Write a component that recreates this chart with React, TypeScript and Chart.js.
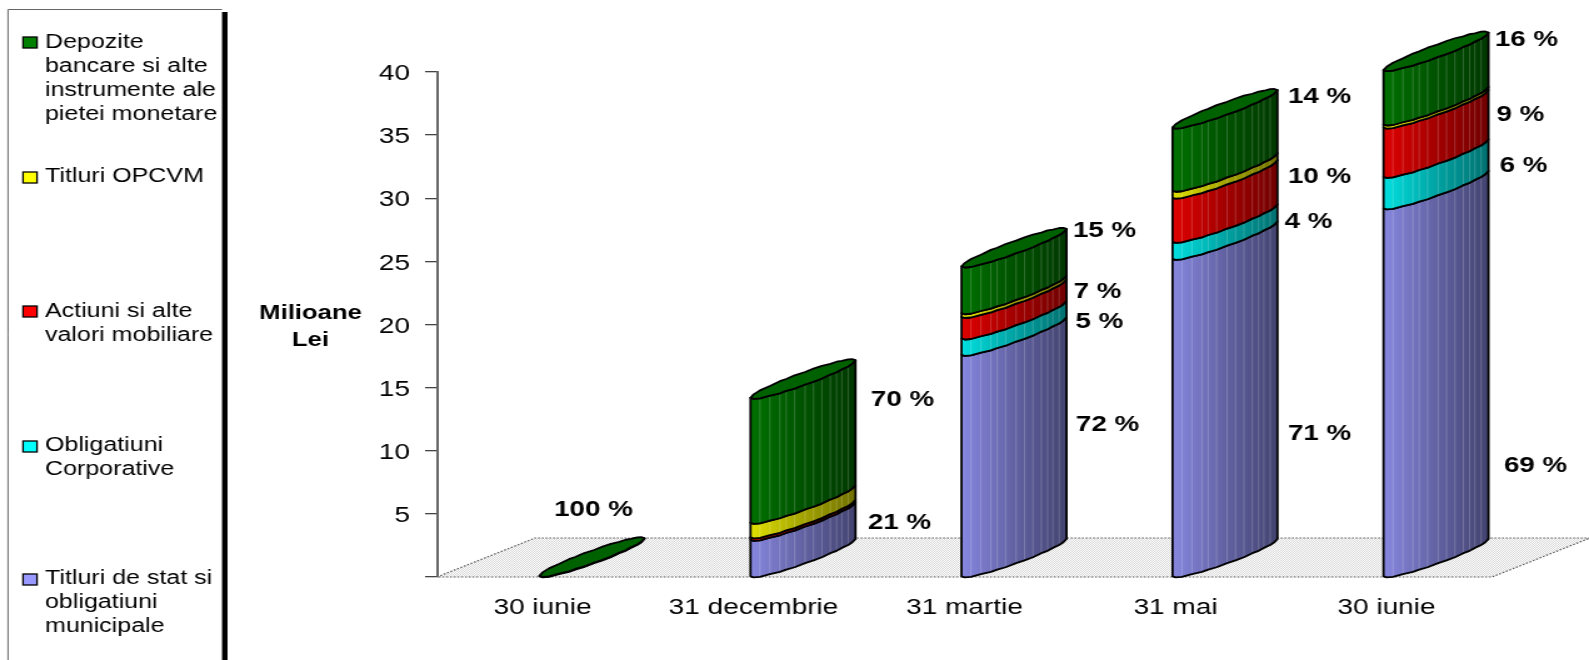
import React, { useEffect, useRef } from "react";
import { Chart, registerables } from "chart.js";

Chart.register(...registerables);

// ---------- data ----------
const categories = ["30 iunie", "31 decembrie", "31 martie", "31 mai", "30 iunie"];
const titluriStat = [0, 2.95, 17.6, 25.2, 29.2];
const obligatiuni = [0, 0, 1.3, 1.35, 2.5];
const actiuni = [0, 0.2, 1.7, 3.5, 3.9];
const opcvm = [0, 1.15, 0.3, 0.55, 0.25];
const depozite = [0.1, 9.9, 3.7, 5.0, 4.3];

const pctStat = ["", "21 %", "72 %", "71 %", "69 %"];
const pctObl = ["", "", "5 %", "4 %", "6 %"];
const pctAct = ["", "", "7 %", "10 %", "9 %"];
const pctOpc = ["", "", "", "", ""];
const pctDep = ["100 %", "70 %", "15 %", "14 %", "16 %"];

const legendStat = ["Titluri de stat si", "obligatiuni", "municipale"];
const legendObl = ["Obligatiuni", "Corporative"];
const legendAct = ["Actiuni si alte", "valori mobiliare"];
const legendOpc = ["Titluri OPCVM"];
const legendDep = ["Depozite", "bancare si alte", "instrumente ale", "pietei monetare"];

const axisTitle = ["Milioane", "Lei"];
const yMax = 40;
const yStep = 5;

// ---------- layout & style (page pixels; x is divided by the stretch) ----------
const PAGE_W = 1589;
const PAGE_H = 660;
const LOGICAL_W = 1271;
const S = PAGE_W / LOGICAL_W; // the whole chart is stretched horizontally
const AREA = { left: 437, right: 1492, top: 72, bottom: 577 };
const FLOOR = { dx: 98, dy: -39 };
const BAR = { width: 105, shift: -3, rise: 37.5, bulge: 6.5 };
const FONT = '"Liberation Sans", Arial, sans-serif';
const FACETS = [0, 0.03, 0.09, 0.185, 0.28, 0.34, 0.42, 0.52, 0.6, 0.68, 0.76, 0.82, 0.87, 0.93, 0.97, 1];
const WOBBLE = [0, 0, 0.25, -0.25, 0.2, -0.2, 0.25, -0.25, 0.2, 0.3, -0.25, 0.25, -0.2, 0.25, 0, 0];

const colorStat = "#9999ff";
const colorObl = "#00ffff";
const colorAct = "#ff0000";
const colorOpc = "#ffff00";
const colorDep = "#008000";

// label offsets from (band centre, segment middle), same order as the series and categories
const offStat = [[0, 0], [146, -35], [143, -41], [144, 16], [149, 74]];
const offObl = [[0, 0], [0, 0], [135, -25], [133, -28], [137, -27]];
const offAct = [[0, 0], [0, 0], [133, -36], [144, -43], [134, -37]];
const offOpc = [[0, 0], [0, 0], [0, 0], [0, 0], [0, 0]];
const offDep = [[51, -66], [149, -60], [140, -59], [144, -62], [140, -57.5]];

const legendFirstY = [578, 445, 311, 176, 42]; // same order as the series
const legendSwatchY = [574, 441, 306, 172, 37];
const LEGEND_LINE = 24.3;

const series = [
  { label: legendStat, data: titluriStat, color: colorStat, pct: pctStat, off: offStat },
  { label: legendObl, data: obligatiuni, color: colorObl, pct: pctObl, off: offObl },
  { label: legendAct, data: actiuni, color: colorAct, pct: pctAct, off: offAct },
  { label: legendOpc, data: opcvm, color: colorOpc, pct: pctOpc, off: offOpc },
  { label: legendDep, data: depozite, color: colorDep, pct: pctDep, off: offDep },
];

const shade = (hex: string, k: number) => {
  const n = parseInt(hex.slice(1), 16);
  return `rgb(${Math.round(((n >> 16) & 255) * k)},${Math.round(((n >> 8) & 255) * k)},${Math.round((n & 255) * k)})`;
};

const round = (f: number) => Math.sqrt(Math.max(0, 1 - (2 * f - 1) ** 2));
const lowerY = (f: number, i: number, y0: number) => y0 - BAR.rise * f + BAR.bulge * round(f) + WOBBLE[i];
const upperY = (f: number, i: number, y0: number) => y0 - BAR.rise * f - BAR.bulge * round(f) - WOBBLE[i];

const scene3d = {
  id: "scene3d",
  beforeDraw(chart: any) {
    const { ctx, chartArea: a } = chart;
    const dx = FLOOR.dx / S;
    const tile = document.createElement("canvas");
    tile.width = 2;
    tile.height = 2;
    const t = tile.getContext("2d")!;
    t.fillStyle = "#ffffff";
    t.fillRect(0, 0, 2, 2);
    t.fillStyle = "#d8d8d8";
    t.fillRect(0, 0, 1, 1);
    t.fillRect(1, 1, 1, 1);
    ctx.save();
    ctx.beginPath();
    ctx.moveTo(a.left, a.bottom);
    ctx.lineTo(a.left + dx, a.bottom + FLOOR.dy);
    ctx.lineTo(a.right + dx, a.bottom + FLOOR.dy);
    ctx.lineTo(a.right, a.bottom);
    ctx.closePath();
    ctx.fillStyle = ctx.createPattern(tile, "repeat");
    ctx.fill();
    ctx.setLineDash([1.5, 1.5]);
    ctx.lineWidth = 1.2;
    ctx.strokeStyle = "#555";
    ctx.stroke();
    ctx.restore();
  },
  beforeDatasetDraw() {
    return false;
  },
  beforeDatasetsDraw(chart: any) {
    const { ctx } = chart;
    const metas = series.map((_, i) => chart.getDatasetMeta(i));
    ctx.save();
    ctx.lineJoin = "round";
    categories.forEach((_, c) => {
      let last: any = null;
      metas.forEach((m: any, d: number) => {
        const el = m.data[c];
        const v = series[d].data[c];
        if (!v) return;
        last = { el, d };
        const w = el.width;
        const left = el.x + BAR.shift / S;
        const px = (f: number) => left + w * f;
        const topY = el.y;
        const baseY = el.base;
        const g = ctx.createLinearGradient(left, 0, left + w, 0);
        g.addColorStop(0, shade(series[d].color, 0.88));
        g.addColorStop(0.5, shade(series[d].color, 0.64));
        g.addColorStop(1, shade(series[d].color, 0.44));
        const outline = () => {
          ctx.beginPath();
          FACETS.forEach((f, i) => {
            const y = lowerY(f, i, baseY);
            if (i === 0) ctx.moveTo(px(f), y);
            else ctx.lineTo(px(f), y);
          });
          for (let i = FACETS.length - 1; i >= 0; i--) ctx.lineTo(px(FACETS[i]), lowerY(FACETS[i], i, topY));
          ctx.closePath();
        };
        outline();
        ctx.fillStyle = g;
        ctx.fill();
        ctx.save();
        ctx.lineWidth = 0.7;
        ctx.strokeStyle = "rgba(255,255,255,0.28)";
        FACETS.forEach((f, i) => {
          if (i < 2 || i > FACETS.length - 3) return;
          ctx.beginPath();
          ctx.moveTo(px(f), lowerY(f, i, baseY) - 1);
          ctx.lineTo(px(f), lowerY(f, i, topY) + 1);
          ctx.stroke();
        });
        ctx.restore();
        outline();
        ctx.lineWidth = 1.8;
        ctx.strokeStyle = "#000";
        ctx.stroke();
      });
      if (last) {
        const { el, d } = last;
        const left = el.x + BAR.shift / S;
        const px = (f: number) => left + el.width * f;
        ctx.beginPath();
        FACETS.forEach((f, i) => {
          const y = upperY(f, i, el.y);
          if (i === 0) ctx.moveTo(px(f), y);
          else ctx.lineTo(px(f), y);
        });
        for (let i = FACETS.length - 1; i >= 0; i--) ctx.lineTo(px(FACETS[i]), lowerY(FACETS[i], i, el.y));
        ctx.closePath();
        ctx.fillStyle = shade(series[d].color, 0.76);
        ctx.fill();
        ctx.lineWidth = 1.8;
        ctx.strokeStyle = "#000";
        ctx.stroke();
      }
    });
    ctx.restore();
  },
  afterDatasetsDraw(chart: any) {
    const { ctx } = chart;
    ctx.save();
    ctx.font = `bold 22.2px ${FONT}`;
    ctx.fillStyle = "#000";
    ctx.textAlign = "center";
    ctx.textBaseline = "middle";
    series.forEach((s, d) => {
      const m = chart.getDatasetMeta(d);
      s.pct.forEach((txt, c) => {
        if (!txt) return;
        const el = m.data[c];
        const [ox, oy] = s.off[c];
        ctx.fillText(txt, el.x + ox / S, (el.y + el.base) / 2 + oy);
      });
    });
    // axis title
    ctx.font = `bold 20.5px ${FONT}`;
    ctx.fillText(axisTitle[0], 310.5 / S, 313.5);
    ctx.fillText(axisTitle[1], 310.5 / S, 340);
    ctx.restore();
  },
  afterDraw(chart: any) {
    const { ctx } = chart;
    ctx.save();
    ctx.fillStyle = "#000";
    ctx.fillRect(222 / S, 12, 5.5 / S, PAGE_H);
    ctx.strokeStyle = "#666";
    ctx.lineWidth = 1;
    ctx.beginPath();
    ctx.moveTo(222 / S, 9.5);
    ctx.lineTo(8 / S, 9.5);
    ctx.lineTo(8 / S, PAGE_H);
    ctx.stroke();
    ctx.font = `20px ${FONT}`;
    ctx.textAlign = "left";
    ctx.textBaseline = "middle";
    series.forEach((s, d) => {
      const y0 = legendFirstY[d];
      const sy = legendSwatchY[d];
      ctx.fillStyle = s.color;
      ctx.fillRect(23 / S, sy, 14 / S, 11);
      ctx.strokeStyle = "#000";
      ctx.lineWidth = 1.3;
      ctx.strokeRect(23 / S, sy, 14 / S, 11);
      ctx.fillStyle = "#000";
      s.label.forEach((line, i) => ctx.fillText(line, 45 / S, y0 + i * LEGEND_LINE));
    });
    ctx.restore();
  },
};

export default function App() {
  const ref = useRef<HTMLCanvasElement | null>(null);
  useEffect(() => {
    const chart = new Chart(ref.current!, {
      type: "bar",
      data: {
        labels: categories,
        datasets: series.map((s) => ({
          label: s.label.join(" "),
          data: s.data,
          backgroundColor: s.color,
          barThickness: BAR.width / S,
          stack: "all",
        })),
      },
      plugins: [scene3d],
      options: {
        animation: false,
        responsive: false,
        devicePixelRatio: 1,
        layout: {
          padding: {
            left: 0,
            top: AREA.top,
            right: LOGICAL_W - AREA.right / S,
            bottom: 0,
          },
        },
        plugins: { legend: { display: false }, tooltip: { enabled: false } },
        scales: {
          x: {
            stacked: true,
            afterFit: (s: any) => {
              s.height = PAGE_H - AREA.bottom;
            },
            border: { display: false },
            grid: { display: false },
            ticks: {
              autoSkip: false,
              maxRotation: 0,
              padding: 9,
              color: "#000",
              font: { family: FONT, size: 22.4 },
            },
          },
          y: {
            stacked: true,
            min: 0,
            max: yMax,
            afterFit: (s: any) => {
              s.width = AREA.left / S;
            },
            border: { display: true, color: "#666", width: 2 },
            grid: { drawOnChartArea: false, drawTicks: true, tickLength: 12 / S, color: "#444", lineWidth: 1.3 },
            ticks: {
              stepSize: yStep,
              padding: 15 / S,
              labelOffset: 2,
              color: "#000",
              font: { family: FONT, size: 22.4 },
              callback: (v: any) => (v === 0 ? "" : String(v)),
            },
          },
        },
      } as any,
    });
    return () => chart.destroy();
  }, []);
  return (
    <div style={{ position: "fixed", left: 0, top: 0, width: PAGE_W, height: PAGE_H, overflow: "hidden", background: "#fff" }}>
      <div style={{ transform: `scaleX(${S})`, transformOrigin: "0 0", width: LOGICAL_W, height: PAGE_H }}>
        <canvas ref={ref} width={LOGICAL_W} height={PAGE_H} />
      </div>
    </div>
  );
}
